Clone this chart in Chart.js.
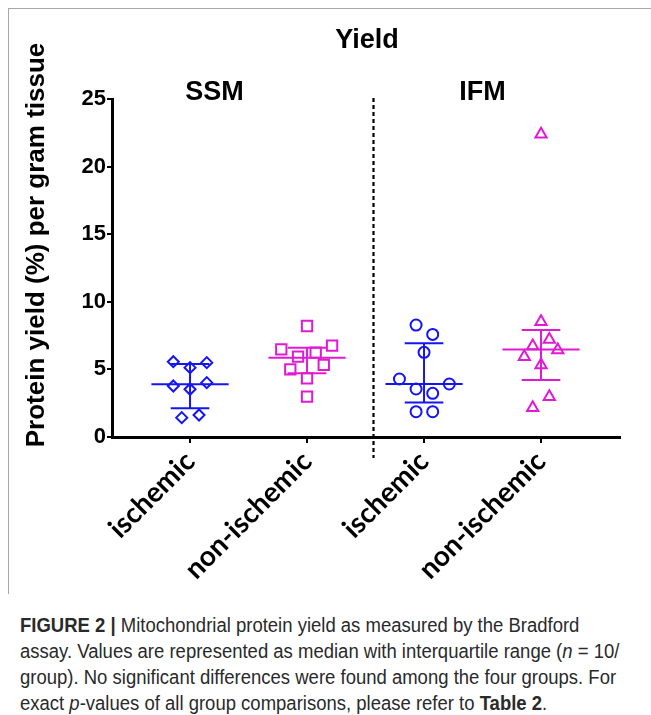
<!DOCTYPE html>
<html>
<head>
<meta charset="utf-8">
<script src="https://cdn.jsdelivr.net/npm/chart.js@4.4.1/dist/chart.umd.min.js"></script>
<style>
  html, body { margin: 0; padding: 0; background: #fff; }
  #wrap { position: relative; width: 651px; height: 715px; overflow: hidden; }
  #frame { position: absolute; left: 8px; top: 8px; width: 660px; height: 585px;
           border-top: 1.5px solid #a8a8a8; border-left: 1.5px solid #a8a8a8; }
  #chart { position: absolute; left: 0; top: 0; }
  #caption { position: absolute; left: 20px; top: 612px; font-family: "Liberation Sans", Arial, sans-serif;
             font-size: 20px; line-height: 26px; color: #2a2a2a; }
  #caption div { white-space: nowrap; transform: scaleX(0.925); transform-origin: left center; }
</style>
</head>
<body>
<div id="wrap">
  <div id="frame"></div>
  <canvas id="chart" width="651" height="600"></canvas>
  <div id="caption">
    <div><b>FIGURE 2 |</b> Mitochondrial protein yield as measured by the Bradford</div>
    <div>assay. Values are represented as median with interquartile range (<i>n</i> = 10/</div>
    <div>group). No significant differences were found among the four groups. For</div>
    <div>exact <i>p</i>-values of all group comparisons, please refer to <b>Table 2</b>.</div>
  </div>
</div>
<script>
// group labels and their slots on the x axis
const groupLabels = ['ischemic', 'non-ischemic', 'ischemic', 'non-ischemic'];
const groupPos = [1, 2, 3, 4];
const yTicks = [0, 5, 10, 15, 20, 25];

// individual values (% per gram tissue)
const ssmIschemic    = [5.57, 5.50, 5.13, 3.77, 4.02, 3.53, 1.43, 1.63];
const ssmNonIschemic = [8.21, 6.48, 6.76, 5.94, 6.24, 5.00, 5.33, 4.34, 2.98];
const ifmIschemic    = [8.28, 7.59, 6.26, 4.29, 3.92, 3.55, 3.23, 1.87, 1.87];
const ifmNonIschemic = [22.39, 8.53, 7.22, 6.73, 6.43, 5.94, 5.33, 2.98, 2.17];

// horizontal scatter of the dots around each group
const ssmIschemicJit    = [-0.143, 0.143, 0, -0.143, 0.143, 0, -0.071, 0.077];
const ssmNonIschemicJit = [0, -0.22, 0.214, -0.077, 0.074, -0.143, 0.143, 0, 0];
const ifmIschemicJit    = [-0.068, 0.074, 0, -0.21, 0.216, -0.068, 0.074, -0.068, 0.074];
const ifmNonIschemicJit = [0, 0, 0.071, -0.071, 0.143, -0.143, 0, 0.071, -0.071];

// median and interquartile range per group
const medians = [3.90, 5.87, 3.92, 6.48];
const q1s     = [2.12, 4.71, 2.56, 4.21];
const q3s     = [5.40, 6.61, 6.93, 7.91];

const dividerAt = 2.564;

const BLUE = '#1414f5';
const MAGENTA = '#e01ad4';

const groups = [
  { vals: ssmIschemic, jit: ssmIschemicJit, style: 'rectRot', r: 5.5, color: BLUE },
  { vals: ssmNonIschemic, jit: ssmNonIschemicJit, style: 'rect', r: 7.3, color: MAGENTA },
  { vals: ifmIschemic, jit: ifmIschemicJit, style: 'circle', r: 5.5, color: BLUE },
  { vals: ifmNonIschemic, jit: ifmNonIschemicJit, style: 'triangle', r: 6.5, color: MAGENTA },
];

function segment(x1, y1, x2, y2, color) {
  return {
    type: 'scatter', showLine: true, data: [{ x: x1, y: y1 }, { x: x2, y: y2 }],
    borderColor: color, borderWidth: 2, pointRadius: 0, clip: false,
  };
}

const datasets = [];
groups.forEach((g, i) => {
  const p = groupPos[i];
  datasets.push(segment(p - 0.33, medians[i], p + 0.33, medians[i], g.color));
  datasets.push(segment(p - 0.165, q1s[i], p + 0.165, q1s[i], g.color));
  datasets.push(segment(p - 0.165, q3s[i], p + 0.165, q3s[i], g.color));
  datasets.push(segment(p, q1s[i], p, q3s[i], g.color));
  datasets.push({
    type: 'scatter',
    data: g.vals.map((v, k) => ({ x: p + g.jit[k], y: v })),
    pointStyle: g.style, pointRadius: g.r, borderWidth: 2,
    borderColor: g.color, backgroundColor: 'rgba(0,0,0,0)', clip: false,
  });
});

const overlay = {
  id: 'overlay',
  afterDraw(chart) {
    const { ctx, scales: { x, y } } = chart;
    ctx.save();
    // dashed divider between SSM and IFM
    const dx = Math.round(x.getPixelForValue(dividerAt)) + 0.5;
    ctx.strokeStyle = '#000';
    ctx.lineWidth = 2.2;
    ctx.setLineDash([4, 3]);
    ctx.beginPath();
    ctx.moveTo(dx, y.getPixelForValue(25) - 1);
    ctx.lineTo(dx, y.bottom + 21);
    ctx.stroke();
    ctx.setLineDash([]);

    ctx.fillStyle = '#000';
    ctx.textAlign = 'center';
    ctx.textBaseline = 'middle';
    ctx.font = 'bold 27px "Liberation Sans", Arial, sans-serif';
    ctx.fillText('Yield', 367, 41);
    ctx.fillText('SSM', x.getPixelForValue(1.21), 93);
    ctx.fillText('IFM', x.getPixelForValue(3.5), 93);

    ctx.translate(37, 245);
    ctx.rotate(-Math.PI / 2);
    ctx.font = 'bold 26px "Liberation Sans", Arial, sans-serif';
    ctx.fillText('Protein yield (%) per gram tissue', 0, 0);
    ctx.restore();
  }
};

new Chart(document.getElementById('chart').getContext('2d'), {
  type: 'scatter',
  data: { datasets },
  plugins: [overlay],
  options: {
    responsive: false,
    animation: false,
    layout: { padding: { top: 99, right: 31, bottom: 0, left: 0 } },
    plugins: { legend: { display: false }, tooltip: { enabled: false } },
    scales: {
      x: {
        type: 'linear', min: 0.333, max: 4.675,
        afterFit: (s) => { s.height = 600 - 437; },
        afterBuildTicks: (s) => { s.ticks = groupPos.map(v => ({ value: v })); },
        ticks: {
          autoSkip: false, minRotation: 45, maxRotation: 45, padding: 2, color: '#000',
          font: { family: 'Lato', weight: 'bold', size: 28 },
          callback: (v, i) => groupLabels[i],
        },
        grid: { drawOnChartArea: false, color: '#000', lineWidth: 2, tickLength: 6 },
        border: { color: '#000', width: 3 },
      },
      y: {
        min: 0, max: 25,
        afterFit: (s) => { s.width = 112; },
        afterBuildTicks: (s) => { s.ticks = yTicks.map(v => ({ value: v })); },
        ticks: { padding: 1, color: '#000', font: { family: 'Liberation Sans', weight: 'bold', size: 22 } },
        grid: { drawOnChartArea: false, color: '#000', lineWidth: 2, tickLength: 5 },
        border: { color: '#000', width: 3 },
      },
    },
  },
});
</script>
</body>
</html>
